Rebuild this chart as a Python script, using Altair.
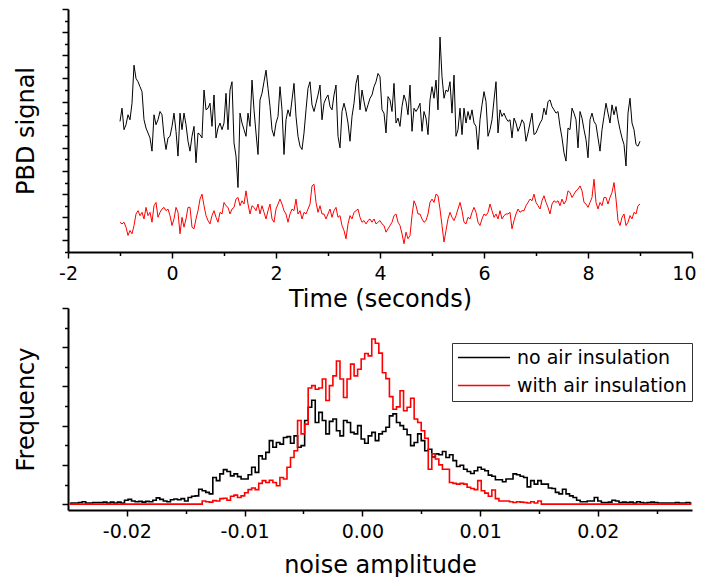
import altair as alt
import pandas as pd

FONT = "DejaVu Sans"
SERIES = ["no air insulation", "with air insulation"]
COLORS = ["#000000", "#ff0000"]

# ---- top panel: PBD signal (arbitrary units), one sample every 2/52 s from -1 s to 9 s
t_start = -1.0
t_step = 2 / 52
black_signal = [
    39.5, 43.5, 37, 38.5, 41.5, 40, 45, 56.5, 52.5, 51.5,
    50, 48.5, 40, 37.5, 36, 34.5, 30.5, 41.5, 38.5, 40,
    42.5, 41.5, 35, 31, 34.5, 35, 38, 42, 36.5, 29,
    42, 37, 42, 38.5, 33.5, 30.5, 35, 38, 27, 36,
    35.5, 34.5, 49, 43, 43.5, 45, 38, 47.5, 34.5, 37.5,
    39, 37, 39, 48, 37, 49, 51.5, 33, 29, 19.5,
    42, 39, 37, 35, 42, 38,
    52, 43, 36, 29.5, 46, 48, 51.5, 55, 49.5, 44,
    37, 35, 39, 41, 50, 43, 29.5, 40, 43, 41,
    46, 51, 41, 35, 32, 31, 36, 43, 49.5, 51.5,
    44.5, 42.5, 45, 47.5, 50.5, 40, 45, 46.5, 47.5, 44,
    43, 47.5, 50.5, 35, 31.5, 42.5, 45, 42.5, 39, 33.5,
    41, 45, 51, 53.5, 43, 49, 45.5, 42.5, 44.5, 46.5,
    47.5, 50, 51.5, 54, 53,
    43, 42, 36, 47, 46, 42.5, 51, 39, 40.5, 38,
    44, 47.5, 45.5, 41.5, 50.5, 36.5, 43.5, 42.5, 43.5, 45,
    36.5, 42.5, 40.5, 35.5, 46, 50, 46.5, 52, 43, 65,
    53, 46.5, 49, 48.5, 51.5, 42, 53.5, 35, 37, 43.5,
    35.5, 43.5, 39, 42.5, 40, 43, 39, 38, 31, 40,
    44.5, 48.5, 45.5, 35, 37, 40, 46, 51.5, 36, 43,
    41, 42, 40.5, 39.5, 40,
    34.5, 40.5, 39, 36.5, 38, 40, 39, 33.5, 36, 39,
    42, 35.5, 36, 37.5, 39, 40, 43.5, 41.5, 45.5, 46,
    44, 43, 42, 42.5, 38, 34.5, 30, 27.5, 37.5, 37,
    43.5, 42, 40, 31.5, 42.5, 40.5, 37, 34, 28.5, 40,
    42, 39.5, 38.5, 34.5, 30.5, 37, 41, 45, 42, 39,
    44.5, 41.5, 44, 40, 37, 34.5, 32.5, 26, 42, 46.5,
    39, 37, 32.5, 32, 33.5,
]
red_signal = [
    9, 8.5, 9, 7.5, 5, 6.5, 5.5, 8, 11.5, 12.5,
    11, 12, 10, 13.5, 11, 12, 9, 14, 15, 10.5,
    12, 13, 13.5, 12.5, 13, 11, 8, 10, 13.5, 12,
    5.5, 10.5, 7.5, 10, 13.5, 13.5, 7.5, 7, 10, 12.5,
    16, 17.5, 14, 11, 9.5, 8.5, 11, 12.5, 10.5, 9,
    12, 11.5, 15, 14, 13.5, 11.5, 13, 13.5, 16, 16.5,
    14, 15.5, 14.5, 18.5, 14.5, 11.5,
    14, 13.5, 12.5, 14.5, 11.5, 14, 12, 10, 12.5, 14.5,
    10, 9, 13, 14.5, 16, 14.5, 12.5, 11.5, 9, 11.5,
    13, 12.5, 16, 11.5, 12.5, 10, 12, 11.5, 13, 14.5,
    20, 20.5, 15, 12, 14, 11.5, 11.5, 10, 11.5, 13,
    10.5, 12.5, 13.5, 10.5, 11, 8, 6.5, 4, 8.5, 11,
    10, 12, 12.5, 13, 10.5, 9, 9.5, 8.5, 9.5, 10,
    9, 10, 8.5, 9, 9.5,
    8.5, 8, 6, 7, 8, 9, 11, 11.5, 9, 8,
    5.5, 2.5, 6, 4, 5, 11, 15.5, 14, 11.5, 11.5,
    10, 9, 9.5, 11.5, 15, 16, 15, 17.5, 17, 13,
    8, 3, 6.5, 10, 12, 10.5, 9.5, 11, 13, 15,
    12.5, 9, 8.5, 10.5, 10, 12, 13.5, 12, 9, 8,
    10, 11.5, 11, 12, 14.5, 12.5, 10.5, 11.5, 10, 12.5,
    10, 11, 11.5, 11.5, 12,
    7, 9.5, 11.5, 13, 12, 12.5, 12.5, 14, 15, 16,
    15.5, 17.5, 15, 14, 13, 15.5, 17, 15, 13.5, 11.5,
    14.5, 15.5, 15, 15.5, 14, 16, 14.5, 15.5, 18.5, 18,
    16.5, 17.5, 18.5, 19, 20, 18.5, 15, 14.5, 13.5, 15,
    16.5, 22, 15, 13, 15, 14, 16.5, 16.5, 14.5, 16.5,
    18, 21, 16, 9.5, 8, 10.5, 11.5, 8, 9, 11,
    10, 12, 11.5, 14, 14.5,
]

# ---- bottom panel: histograms of the noise amplitude (bin width 0.0003)
hist_start = -0.02485
hist_bin = 0.0003
black_hist = [
    2, 3, 3, 4, 6, 3, 3, 4, 4, 4,
    5, 3, 5, 3, 5, 3, 10, 12, 8, 6,
    7, 5, 7, 6, 10, 16, 12, 8, 6, 11,
    13, 11, 14, 8, 17, 20, 21, 38, 34, 30,
    26, 68, 60, 77, 88, 83, 72, 77, 70, 64,
    64, 75, 94, 81, 123, 115, 132, 162, 145, 157,
    153, 170, 172, 155, 174, 145, 149, 213, 247, 265,
    208, 234, 213, 179, 211, 217, 187, 174, 213, 208,
    183, 179, 200, 166, 155, 174, 183, 162, 179, 185,
    196, 225, 230, 208, 200, 191, 177, 149, 157, 179,
    162, 136, 140, 120, 128, 126, 134, 119, 126, 111,
    96, 99, 89, 83, 78, 85, 94, 89, 85, 74,
    71, 62, 62, 57, 64, 64, 77, 75, 71, 68,
    44, 60, 51, 60, 51, 51, 41, 40, 30, 26,
    38, 26, 21, 17, 10, 6, 6, 8, 8, 17,
    8, 4, 4, 5, 10, 8, 4, 5, 4, 5,
    3, 6, 4, 3, 4, 5, 4, 3, 3, 3,
    3, 3, 4, 3, 3, 4, 3,
]
red_hist = [
    0, 0, 0, 0, 0, 0, 0, 0, 0, 0,
    0, 0, 0, 0, 0, 0, 0, 0, 0, 0,
    0, 0, 0, 0, 0, 0, 0, 0, 0, 0,
    0, 0, 0, 0, 0, 0, 0, 0, 8, 6,
    5, 9, 8, 14, 15, 10, 20, 23, 17, 21,
    29, 37, 41, 37, 53, 60, 55, 61, 55, 47,
    68, 64, 94, 119, 136, 213, 179, 204, 296, 302,
    293, 296, 319, 264, 302, 327, 365, 319, 272, 319,
    357, 327, 344, 370, 384, 378, 421, 410, 385, 335,
    320, 274, 242, 248, 289, 238, 247, 270, 217, 208,
    187, 168, 89, 128, 115, 100, 89, 89, 55, 53,
    51, 53, 51, 43, 40, 37, 60, 34, 28, 20,
    36, 14, 8, 8, 8, 6, 4, 6, 5, 4,
    3, 6, 3, 8, 0, 0, 0, 0, 0, 0,
    0, 0, 0, 0, 0, 0, 0, 0, 0, 0,
    0, 0, 0, 0, 0, 0, 0, 0, 0, 0,
    0, 0, 0, 0, 0, 0, 0, 0, 0, 0,
    0, 0, 0, 0, 0, 0, 0,
]

# ---- tables
times = [t_start + i * t_step for i in range(len(black_signal))]
top_df = pd.DataFrame({
    "t": times + times,
    "v": black_signal + red_signal,
    "series": [SERIES[0]] * len(black_signal) + [SERIES[1]] * len(red_signal),
})
centers = [round(hist_start + hist_bin * k, 6) for k in range(len(black_hist))]
bot_df = pd.DataFrame({
    "a": centers + centers,
    "f": black_hist + red_hist,
    "series": [SERIES[0]] * len(black_hist) + [SERIES[1]] * len(red_hist),
})

MINUS = "replace({f}, '\u2212', '-')"
LAST = "datum.value === 10"

top = alt.Chart(top_df).mark_line(strokeWidth=1).encode(
    x=alt.X("t:Q",
            scale=alt.Scale(domain=[-2, 10], nice=False, zero=False),
            axis=alt.Axis(values=list(range(-2, 11)), title="Time (seconds)",
                          labelExpr="datum.value % 2 === 0 ? " + MINUS.format(f="format(datum.value, 'd')") + " : ''",
                          labelAlign={"condition": {"test": LAST, "value": "right"}, "value": "center"},
                          labelOffset={"condition": {"test": LAST, "value": 4}, "value": 0},
                          tickSize={"condition": {"test": "datum.value % 2 === 0", "value": 6}, "value": 3.5},
                          labelPadding=6, titlePadding=4)),
    y=alt.Y("v:Q",
            scale=alt.Scale(domain=[0, 73.5], nice=False, zero=False),
            axis=alt.Axis(values=[3.5 * i for i in range(22)], labels=False, title="PBD signal",
                          tickSize={"condition": {"test": "round(datum.value * 10) % 70 === 35", "value": 6}, "value": 3.5},
                          titlePadding=23)),
    color=alt.Color("series:N", scale=alt.Scale(domain=SERIES, range=COLORS), legend=None),
    order=alt.Order("t:Q"),
).properties(width=624, height=243)

bottom = alt.Chart(bot_df).mark_line(strokeWidth=1.6, interpolate="step").encode(
    x=alt.X("a:Q",
            scale=alt.Scale(domain=[-0.025, 0.028], nice=False, zero=False),
            axis=alt.Axis(values=[round(-0.02 + 0.005 * i, 3) for i in range(10)], title="noise amplitude",
                          labelExpr="abs(round(datum.value * 1000)) % 10 === 0 ? " + MINUS.format(f="format(datum.value, '.2f')") + " : ''",
                          tickSize={"condition": {"test": "abs(round(datum.value * 1000)) % 10 === 0", "value": 6}, "value": 3.5},
                          labelPadding=6, titlePadding=12)),
    y=alt.Y("f:Q",
            scale=alt.Scale(domain=[-15, 500], nice=False, zero=False),
            axis=alt.Axis(values=[50 * i for i in range(11)], labels=False, title="Frequency",
                          tickSize={"condition": {"test": "datum.value % 100 === 0", "value": 6}, "value": 3.5},
                          titlePadding=23)),
    color=alt.Color("series:N", scale=alt.Scale(domain=SERIES, range=COLORS),
                    legend=alt.Legend(title=None, orient="none", legendX=384, legendY=35,
                                      direction="vertical", symbolType="stroke", symbolSize=2704,
                                      symbolStrokeWidth=1.6, clipHeight=19, labelFontSize=19,
                                      labelFont=FONT, labelColor="black", labelOffset=6,
                                      rowPadding=8, padding=5, strokeColor="#333333",
                                      fillColor="white", symbolOffset=0, labelLimit=400)),
    order=alt.Order("a:Q"),
).properties(width=624, height=202)

chart = alt.vconcat(top, bottom, spacing=56, bounds="flush").resolve_scale(
    color="independent"
).resolve_legend(color="independent").properties(
    padding={"left": 6, "top": 0, "right": 0, "bottom": 0}
).configure(font=FONT).configure_view(stroke=None).configure_axis(
    domainColor="black", domainWidth=2, tickColor="black", tickWidth=1.5,
    labelFont=FONT, labelFontSize=19, labelColor="black", labelOverlap=False, labelFlush=False,
    titleFont=FONT, titleFontSize=24, titleFontWeight="normal", titleColor="black", grid=False,
)

chart.save("out.html", embed_options={"renderer": "svg", "actions": False})
